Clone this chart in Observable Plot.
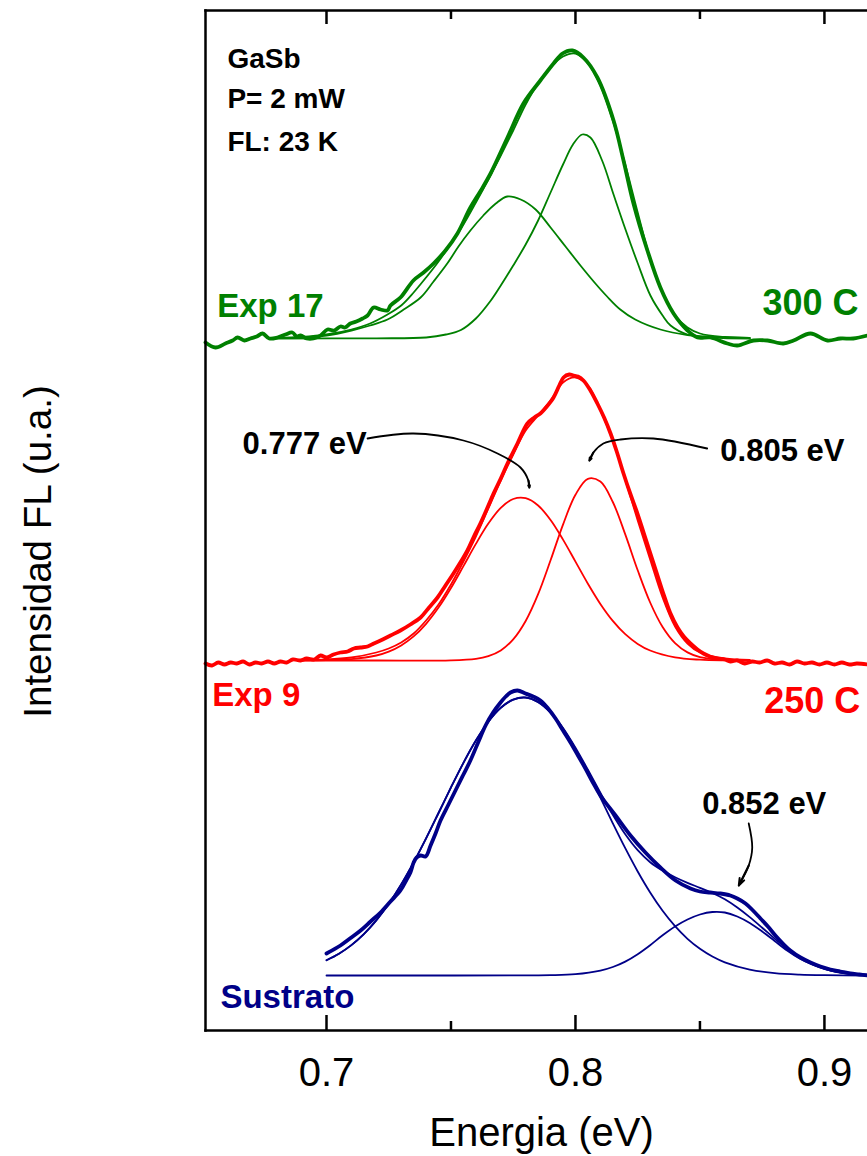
<!DOCTYPE html>
<html><head><meta charset="utf-8">
<script src="https://cdn.jsdelivr.net/npm/d3@7"></script>
<script src="https://cdn.jsdelivr.net/npm/@observablehq/plot@0.6"></script>
<style>body{margin:0;background:#fff;} #chart{width:867px;height:1156px;overflow:hidden}</style>
</head><body><div id="chart"></div>
<script>
// ---- Data (energy eV, intensity in arbitrary stacked units) ----
const greenData = [[0.6514,688],[0.6554,683],[0.6594,687],[0.6623,690],[0.6643,693],[0.6670,690],[0.6695,692],[0.6720,694],[0.6743,697],[0.6770,692],[0.6803,693],[0.6835,696],[0.6863,698],[0.6880,694],[0.6896,695],[0.6920,692],[0.6948,692],[0.6976,695],[0.7004,701],[0.7030,700],[0.7056,704],[0.7075,703],[0.7096,707],[0.7120,709],[0.7145,712],[0.7165,715],[0.7189,723],[0.7217,721],[0.7245,720],[0.7257,725],[0.7297,733],[0.7349,750],[0.7390,758],[0.7430,767],[0.7478,780],[0.7526,797],[0.7578,823],[0.7620,840],[0.7659,857],[0.7727,893],[0.7791,927],[0.7859,950],[0.7912,967],[0.7948,977],[0.7988,980],[0.8032,973],[0.8088,953],[0.8153,910],[0.8193,870],[0.8233,827],[0.8289,780],[0.8341,743],[0.8394,717],[0.8450,700],[0.8490,693],[0.8542,693],[0.8610,687],[0.8650,685],[0.8715,690],[0.8771,690],[0.8835,687],[0.8876,690],[0.8944,697],[0.9012,690],[0.9064,692],[0.9116,692],[0.9173,695]];
const greenPeak1 = [[0.680,692.3],[0.690,693],[0.700,695],[0.710,700],[0.7175,705],[0.7245,711],[0.731,721],[0.7378,733],[0.743,749],[0.7485,767],[0.753,784],[0.7578,800],[0.763,815],[0.768,827],[0.7726,834],[0.778,831],[0.784,821],[0.790,803],[0.796,784],[0.802,765],[0.808,747],[0.8127,734],[0.818,721],[0.824,711],[0.8341,701],[0.845,695.5],[0.855,693.5],[0.870,692.5]];
const greenPeak2 = [[0.680,692],[0.720,692.2],[0.740,693],[0.748,696],[0.754,700.5],[0.760,712],[0.766,730],[0.770,745],[0.775,765],[0.780,786],[0.785,810],[0.790,838],[0.795,866],[0.799,886],[0.8027,896],[0.806,893],[0.8107,870],[0.8153,836],[0.8201,801],[0.8249,768],[0.8301,735],[0.835,715],[0.8382,705],[0.845,696],[0.855,693],[0.870,692]];
const greenFit = [[0.680,692.5],[0.690,693.5],[0.700,696],[0.710,701],[0.7175,707],[0.7245,716],[0.730,725],[0.735,738],[0.740,753],[0.745,769],[0.750,787],[0.755,806],[0.760,828],[0.765,851],[0.770,875],[0.775,900],[0.780,926],[0.785,947],[0.790,963],[0.795,974],[0.800,977],[0.805,967],[0.810,945],[0.815,910],[0.820,866],[0.825,818],[0.830,772],[0.835,738],[0.840,715],[0.845,703],[0.850,697],[0.860,693.5],[0.870,692.5]];

const redData = [[0.6514,367],[0.6540,365],[0.6565,368],[0.6590,366],[0.6615,368],[0.6640,367],[0.6665,369],[0.6690,366],[0.6715,368],[0.6740,367],[0.6765,369],[0.6790,367],[0.6815,369],[0.6840,368],[0.6865,371],[0.6896,370],[0.6920,372],[0.6950,371],[0.6976,375],[0.7000,373],[0.7028,376],[0.7056,378],[0.7085,379],[0.7110,382],[0.7137,383],[0.7165,384],[0.7190,387],[0.7217,390],[0.7257,395],[0.7297,400],[0.7337,406],[0.7378,413],[0.7412,423],[0.7446,433],[0.7478,445],[0.7510,457],[0.7540,469],[0.7566,480],[0.7592,494],[0.7618,507],[0.7645,522],[0.7671,537],[0.7700,552],[0.7727,567],[0.7767,587],[0.7807,607],[0.7835,613],[0.7859,617],[0.7885,624],[0.7912,633],[0.7935,645],[0.7952,653],[0.7975,656],[0.7992,655],[0.8010,654],[0.8032,650],[0.8060,640],[0.8088,627],[0.8115,613],[0.8141,597],[0.8167,578],[0.8193,557],[0.8220,537],[0.8249,517],[0.8275,497],[0.8301,477],[0.8327,457],[0.8353,437],[0.8380,418],[0.8410,403],[0.8435,394],[0.8462,387],[0.8490,381],[0.8514,377],[0.8540,374],[0.8570,372],[0.8600,371],[0.8622,369],[0.8650,370],[0.8680,367],[0.8710,369],[0.8740,368],[0.8770,370],[0.8800,367],[0.8830,368],[0.8860,366],[0.8890,369],[0.8920,367],[0.8950,368],[0.8980,366],[0.9010,368],[0.9040,366],[0.9070,368],[0.9100,366],[0.9130,367],[0.9173,366]];
const redPeak1 = [[0.690,370.1],[0.700,370.3],[0.710,371.4],[0.720,375.0],[0.725,378.9],[0.730,385.1],[0.735,394.1],[0.740,406.7],[0.745,422.9],[0.750,442.5],[0.755,464.4],[0.760,486.6],[0.765,506.9],[0.770,522.6],[0.775,531.5],[0.780,532.3],[0.785,525.0],[0.790,510.5],[0.795,490.9],[0.800,468.9],[0.805,446.8],[0.810,426.6],[0.815,409.6],[0.820,396.3],[0.825,386.6],[0.830,380.0],[0.840,373.1],[0.850,370.8],[0.860,370.1],[0.870,370.0]];
const redPeak2 = [[0.690,370],[0.720,370],[0.750,370.2],[0.760,371.7],[0.765,374.4],[0.770,380.1],[0.775,391.1],[0.780,409.5],[0.785,436.3],[0.790,470.2],[0.795,505.9],[0.800,535.8],[0.805,551.7],[0.810,549.0],[0.815,528.5],[0.820,496.1],[0.825,460.2],[0.830,428.0],[0.835,403.5],[0.840,387.4],[0.845,378.1],[0.850,373.4],[0.860,370.4],[0.870,370.0]];
const redFit = [[0.690,370.5],[0.700,371],[0.710,373],[0.720,378],[0.725,382],[0.730,388],[0.735,397],[0.740,410],[0.745,426],[0.750,446],[0.755,469],[0.760,494],[0.765,522],[0.770,550],[0.775,576],[0.780,600],[0.785,615],[0.790,630],[0.795,648],[0.800,653],[0.805,645],[0.810,620],[0.815,590],[0.820,551],[0.825,510],[0.830,471],[0.835,433],[0.840,404],[0.845,387],[0.850,378],[0.860,372],[0.870,370.5]];

const blueData = [[0.7000,77],[0.7056,85],[0.7100,93],[0.7137,100],[0.7177,109],[0.7217,118],[0.7257,129],[0.7297,140],[0.7320,150],[0.7337,158],[0.7350,168],[0.7362,173],[0.7378,175],[0.7398,174],[0.7418,185],[0.7438,197],[0.7458,210],[0.7488,225],[0.7518,240],[0.7548,255],[0.7578,270],[0.7609,288],[0.7639,305],[0.7669,318],[0.7699,328],[0.7720,334],[0.7739,338],[0.7767,340],[0.7799,337],[0.7830,334],[0.7859,330],[0.7890,322],[0.7920,312],[0.7950,300],[0.7980,288],[0.8010,275],[0.8040,262],[0.8070,248],[0.8100,235],[0.8161,215],[0.8221,195],[0.8281,178],[0.8341,163],[0.8402,150],[0.8462,142],[0.8500,139],[0.8542,138],[0.8582,137],[0.8622,135],[0.8650,132],[0.8683,127],[0.8713,120],[0.8743,112],[0.8773,104],[0.8803,95],[0.8833,87],[0.8863,80],[0.8904,73],[0.8944,68],[0.8984,64],[0.9024,61],[0.9064,59],[0.9104,57],[0.9140,56],[0.9173,55]];
const bluePeak1 = [[0.700,70.3],[0.705,76.8],[0.710,85.4],[0.715,96.4],[0.720,110.1],[0.725,126.7],[0.730,146.1],[0.735,168.1],[0.740,192.1],[0.745,217.5],[0.750,243.1],[0.755,267.7],[0.760,290.0],[0.765,308.8],[0.770,322.7],[0.775,330.9],[0.780,332.9],[0.785,328.4],[0.790,317.8],[0.795,301.8],[0.800,281.5],[0.805,258.1],[0.810,232.9],[0.815,207.2],[0.820,182.3],[0.825,159.0],[0.830,138.0],[0.835,119.7],[0.840,104.3],[0.845,91.7],[0.850,81.7],[0.855,74.0],[0.860,68.2],[0.870,60.9],[0.880,57.4],[0.890,55.9],[0.900,55.3],[0.9173,55.0]];
const bluePeak2 = [[0.700,55],[0.750,55],[0.780,55.1],[0.790,55.3],[0.800,56.3],[0.810,59.9],[0.815,63.5],[0.820,68.9],[0.825,76.3],[0.830,85.3],[0.835,95.2],[0.840,104],[0.845,111],[0.850,116],[0.855,118.5],[0.860,118],[0.865,114],[0.870,107.5],[0.875,99],[0.880,89.5],[0.885,80],[0.890,72],[0.895,66],[0.900,61.5],[0.905,58.5],[0.910,56.8],[0.9173,55.8]];
const blueFit = [[0.700,70.3],[0.705,76.8],[0.710,85.4],[0.715,96.4],[0.720,110.1],[0.725,126.7],[0.730,146.1],[0.735,168.1],[0.740,192.1],[0.745,217.5],[0.750,243.1],[0.755,267.7],[0.760,290.0],[0.765,308.8],[0.770,322.7],[0.775,330.9],[0.780,333.0],[0.785,328.5],[0.790,318.1],[0.795,302.5],[0.800,282.8],[0.805,260.7],[0.810,237.8],[0.815,215.7],[0.820,196.2],[0.825,180.3],[0.830,168.3],[0.835,159.9],[0.840,153.3],[0.845,147.7],[0.850,142.7],[0.855,137.5],[0.860,131.2],[0.865,123],[0.870,113.4],[0.875,102.8],[0.880,91.9],[0.885,81.5],[0.890,72.9],[0.895,66.6],[0.900,61.8],[0.905,58.7],[0.910,56.9],[0.9173,55.8]];

// ---- Ticks & text ----
const majorTicks = [0.7, 0.8, 0.9];
const minorTicks = [0.75, 0.85];
const xLabel = "Energia (eV)";
const yLabel = "Intensidad FL (u.a.)";
const infoText = [["GaSb",0.6602,963],["P= 2 mW",0.6602,923],["FL: 23 K",0.6602,880]];
const leftLabels = [["Exp 17",0.6561,714,"green"],["Exp 9",0.6541,325,"red"],["Sustrato",0.6574,23,"blue"]];
const rightLabels = [["300 C",0.9137,716,"green"],["250 C",0.9144,318,"red"]];
const peakText = [["0.777 eV",0.6663,577],["0.805 eV",0.8582,570],["0.852 eV",0.8509,217]];
const arrowPaths = [
  [[0.7165,592],[0.7349,597],[0.7550,590],[0.7687,577],[0.7779,563],[0.7811,550],[0.7815,543]],
  [[0.8529,582],[0.8313,592],[0.8181,591],[0.8112,587],[0.8072,578],[0.8056,570]],
  [[0.8696,207],[0.8710,183],[0.8696,165],[0.8656,145]]
];

const colors = {green:"#008000", red:"#ff0000", blue:"#000088"};
const font = "'Liberation Sans', Arial, Helvetica, sans-serif";

const thick = [[greenData,"green"],[redData,"red"],[blueData,"blue"]];
const thin = [[greenPeak1,"green"],[greenPeak2,"green"],[greenFit,"green"],[redPeak1,"red"],[redPeak2,"red"],[redFit,"red"],[bluePeak1,"blue"],[bluePeak2,"blue"],[blueFit,"blue"]];

const toRows = (list) => list.flatMap(([pts,c],i) => pts.map(p => ({e:p[0], v:p[1], z:i, c})));
const thinRows = toRows(thin);
const thickRows = toRows(thick);
const arrowRows = arrowPaths.flatMap((p,i) => p.map(q => ({e:q[0], v:q[1], z:i})));
const heads = arrowPaths.map(p => ({x1:p[p.length-2][0], y1:p[p.length-2][1], x2:p[p.length-1][0], y2:p[p.length-1][1]}));

const plot = Plot.plot({
  width: 867, height: 1156,
  marginLeft: 205, marginRight: 0, marginTop: 10, marginBottom: 126,
  x: {domain: [0.6514, 0.9173]},
  y: {domain: [0, 1020], axis: null},
  style: {fontFamily: font, background: "#fff", color: "#000"},
  marks: [
    Plot.line(thinRows, {x:"e", y:"v", z:"z", stroke: d => colors[d.c], strokeWidth: 1.8, curve: "catmull-rom"}),
    Plot.line(thickRows, {x:"e", y:"v", z:"z", stroke: d => colors[d.c], strokeWidth: 3.8, curve: "catmull-rom", strokeLinejoin:"round"}),
    Plot.line(arrowRows, {x:"e", y:"v", z:"z", stroke:"#000", strokeWidth: 1.8, curve:"catmull-rom"}),
    Plot.arrow(heads, {x1:"x1", y1:"y1", x2:"x2", y2:"y2", stroke:"#000", strokeWidth: 2, headLength: 13, headAngle: 40}),
    Plot.frame({anchor:"left", stroke:"#000", strokeWidth: 2.5}),
    Plot.frame({anchor:"top", stroke:"#000", strokeWidth: 2.5}),
    Plot.frame({anchor:"bottom", stroke:"#000", strokeWidth: 2.5}),
    Plot.axisX(majorTicks, {anchor:"bottom", tickSize: 15, dy: -15, fill: "none", strokeWidth: 2.5, label: null}),
    Plot.axisX(minorTicks, {anchor:"bottom", tickSize: 9, dy: -9, fill: "none", strokeWidth: 2.5, label: null}),
    Plot.axisX(majorTicks, {anchor:"top", tickSize: 13, dy: 13, fill: "none", strokeWidth: 2.5, label: null}),
    Plot.axisX(minorTicks, {anchor:"top", tickSize: 8, dy: 8, fill: "none", strokeWidth: 2.5, label: null}),
    Plot.axisX(majorTicks, {anchor:"bottom", tickSize: 0, tickPadding: 27, fontSize: 40, tickFormat: d3.format(".1f"), label: null}),
    Plot.text([xLabel], {frameAnchor:"bottom", lineAnchor:"bottom", textAnchor:"middle", dx: 5, dy: 115, fontSize: 40}),
    Plot.text([yLabel], {frameAnchor:"left", textAnchor:"middle", lineAnchor:"middle", rotate: -90, dx: -167, dy: 31, fontSize: 38.5}),
    Plot.text(infoText, {x: d=>d[1], y: d=>d[2], text: d=>d[0], textAnchor:"start", lineAnchor:"bottom", fontSize: 28, fontWeight:"bold", fill:"#000"}),
    Plot.text(leftLabels, {x: d=>d[1], y: d=>d[2], text: d=>d[0], textAnchor:"start", lineAnchor:"bottom", fontSize: 33, fontWeight:"bold", fill: d=>colors[d[3]]}),
    Plot.text(rightLabels, {x: d=>d[1], y: d=>d[2], text: d=>d[0], textAnchor:"end", lineAnchor:"bottom", fontSize: 36, fontWeight:"bold", fill: d=>colors[d[3]]}),
    Plot.text(peakText, {x: d=>d[1], y: d=>d[2], text: d=>d[0], textAnchor:"start", lineAnchor:"bottom", fontSize: 31, fontWeight:"bold", fill:"#000"})
  ]
});
document.getElementById("chart").appendChild(plot);
</script>
</body></html>
